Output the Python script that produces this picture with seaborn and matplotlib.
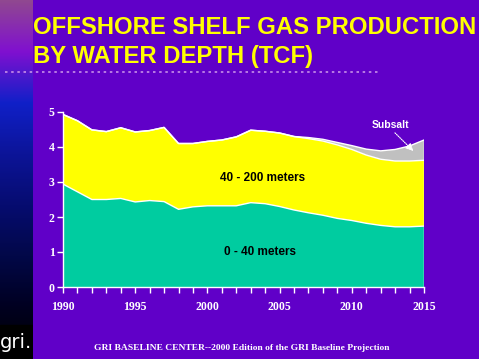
"""Offshore shelf gas production by water depth (TCF), GRI baseline 2000."""
import matplotlib
matplotlib.use("Agg")
import matplotlib.pyplot as plt
from matplotlib.colors import LinearSegmentedColormap
from matplotlib.lines import Line2D
import numpy as np
import pandas as pd
import seaborn as sns

# ---- data ----------------------------------------------------------------- #
years = list(range(1990, 2016))
shallow_0_40 = [2.94, 2.72, 2.50, 2.50, 2.53, 2.43, 2.47, 2.44, 2.22, 2.29,
                2.32, 2.32, 2.32, 2.41, 2.38, 2.30, 2.20, 2.12, 2.05, 1.96,
                1.90, 1.82, 1.76, 1.72, 1.72, 1.74]
mid_40_200 = [1.99, 2.03, 1.99, 1.94, 2.02, 2.00, 2.00, 2.12, 1.88, 1.81,
              1.84, 1.88, 1.97, 2.07, 2.07, 2.10, 2.10, 2.12, 2.12, 2.10,
              2.03, 1.95, 1.89, 1.88, 1.88, 1.88]
subsalt = [0.0, 0.0, 0.0, 0.0, 0.0, 0.0, 0.0, 0.0, 0.0, 0.0,
           0.0, 0.0, 0.0, 0.0, 0.0, 0.0, 0.0, 0.03, 0.05, 0.07,
           0.11, 0.17, 0.24, 0.33, 0.43, 0.58]
layer_names = ["0 - 40 meters", "40 - 200 meters", "Subsalt"]
layer_colors = ["#00CCA0", "#FFFF00", "#C0C0C0"]

BG = "#6000C8"

# ---- figure --------------------------------------------------------------- #
sns.set_theme(style="white", rc={"axes.facecolor": BG, "figure.facecolor": BG})
plt.rcParams["font.family"] = ["Liberation Sans", "DejaVu Sans"]

fig = plt.figure(figsize=(4.79, 3.59), dpi=100)
W, H = 479, 359

# left gradient strip
strip = fig.add_axes([0, 0, 33 / W, 1])
grad = LinearSegmentedColormap.from_list(
    "strip", ["#904890", "#8010D0", "#1020C8", "#0C1498", "#060C70",
              "#020848", "#000020", "#000000"])
strip.imshow(np.linspace(0, 1, 256)[:, None], aspect="auto", cmap=grad,
             extent=[0, 1, 0, 1], origin="upper")
strip.add_patch(plt.Rectangle((0, 0), 1, 34 / H, color="black"))
strip.text(0.48, 17 / H, "gri.", color="white", fontsize=14, ha="center",
           va="center", family="Liberation Sans Narrow")
strip.set_xlim(0, 1)
strip.set_ylim(0, 1)
strip.axis("off")

# title + dotted rule
fig.text(33 / W, 1 - 28 / H, "OFFSHORE SHELF GAS PRODUCTION", color="#FFFF00",
         fontsize=17.2, fontweight="bold", va="center", ha="left")
fig.text(33 / W, 1 - 57 / H, "BY WATER DEPTH (TCF)", color="#FFFF00",
         fontsize=17.2, fontweight="bold", va="center", ha="left")
fig.add_artist(Line2D([5 / W, 381 / W], [1 - 71.5 / H] * 2, color="#C890E8",
                      lw=1.2, ls=(0, (1.5, 2.2)), transform=fig.transFigure))

# main area chart
ax = fig.add_axes([63 / W, (H - 287) / H, (424 - 63) / W, (287 - 112) / H])
ax.set_facecolor(BG)

df = pd.DataFrame({"year": years, layer_names[0]: shallow_0_40,
                   layer_names[1]: mid_40_200, layer_names[2]: subsalt})
base = np.zeros(len(years))
tops = []
for name, col in zip(layer_names, layer_colors):
    top = base + df[name].to_numpy()
    ax.fill_between(df["year"], base, top, facecolor=col, edgecolor="none",
                    zorder=1)
    tops.append(top)
    base = top

long = pd.DataFrame({"year": years * 3,
                     "value": np.concatenate(tops),
                     "edge": np.repeat(layer_names, len(years))})
sns.lineplot(data=long, x="year", y="value", hue="edge",
             palette=["white"] * 3, linewidth=1.0, legend=False, ax=ax,
             zorder=2)
ax.plot([years[-1]] * 2, [0, tops[-1][-1]], color="white", lw=1.0, zorder=2)

ax.set_xlim(1990, 2015)
ax.set_ylim(0, 5)
ax.set_xlabel("")
ax.set_ylabel("")
ax.set_xticks(range(1990, 2016, 5))
ax.set_xticks(years, minor=True)
ax.set_yticks(range(0, 6))
for s in ["top", "right"]:
    ax.spines[s].set_visible(False)
for s in ["left", "bottom"]:
    ax.spines[s].set_color("white")
    ax.spines[s].set_linewidth(1.0)
    ax.spines[s].set_zorder(3)
ax.tick_params(axis="both", which="both", direction="out", colors="white",
               length=4, width=1, left=True, bottom=True)
ax.tick_params(axis="both", labelsize=8.5, pad=2)
ax.tick_params(axis="x", pad=6)
for lab in ax.get_xticklabels() + ax.get_yticklabels():
    lab.set_fontfamily("Liberation Serif")
    lab.set_fontweight("bold")

# in-chart labels
ax.text(2003.85, 3.11, "40 - 200 meters", fontsize=8.5, fontweight="bold",
        color="black", ha="center", va="center")
ax.text(2003.65, 1.0, "0 - 40 meters", fontsize=8.5, fontweight="bold",
        color="black", ha="center", va="center")
ax.text(2012.65, 4.63, "Subsalt", fontsize=7.5, fontweight="bold",
        color="white", ha="center", va="center")
ax.annotate("", xy=(2014.4, 3.83), xytext=(2012.85, 4.46),
            arrowprops=dict(arrowstyle="-|>", color="white", lw=0.8,
                            ls=(0, (1, 1)), mutation_scale=11))

# footer
fig.text(242 / W, 1 - 348 / H,
         "GRI BASELINE CENTER--2000 Edition of the GRI Baseline Projection",
         color="white", fontsize=6.8, fontweight="bold", ha="center",
         va="center", family="Liberation Serif")

fig.savefig("out.png", dpi=100, facecolor=BG)
